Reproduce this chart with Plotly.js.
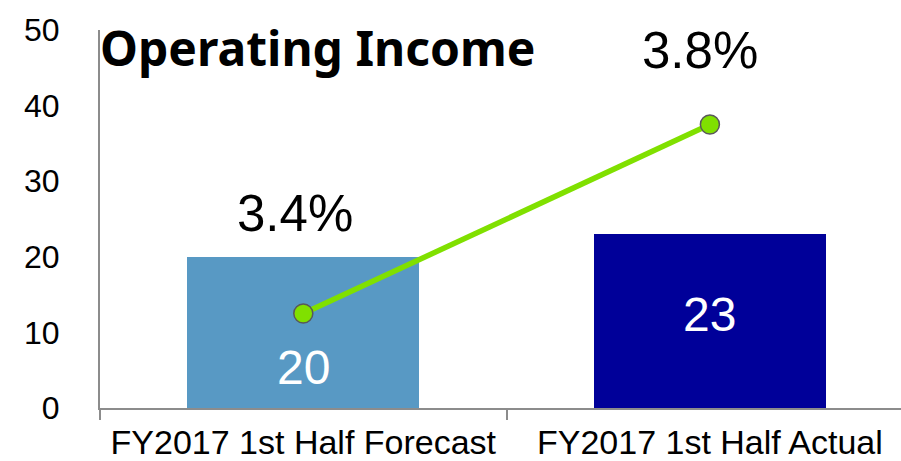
<!DOCTYPE html>
<html><head><meta charset="utf-8">
<script src="https://cdn.plot.ly/plotly-3.0.1.min.js"></script>
<style>html,body{margin:0;padding:0;background:#fff;}#chart{width:901px;height:461px;}</style>
</head><body><div id="chart"></div>
<script>
const categories = ["FY2017 1st Half Forecast", "FY2017 1st Half Actual"];
const incomeValues = [20, 23];
const marginValues = [3.4, 3.8];
const marginLabels = ["3.4%", "3.8%"];
const incomeLabels = ["20", "23"];
const barColors = ["#5899C4", "#000099"];
const yTicks = [0, 10, 20, 30, 40, 50];

const font = "Liberation Sans, Arial, sans-serif";

const traces = [
  {
    type: "bar", x: categories, y: incomeValues, width: 0.571,
    marker: {color: barColors}, hoverinfo: "none", showlegend: false
  },
  {
    type: "scatter", mode: "lines+markers", x: categories, y: marginValues, yaxis: "y2",
    line: {color: "#80E000", width: 5.5},
    marker: {color: "#80E000", size: 19, line: {color: "#595959", width: 1.5}},
    showlegend: false, hoverinfo: "none"
  }
];

const marginShift = [100, 74];
const marginXShift = [-8, -10];
const barLabelShift = [-111, -80];
const annotations = [];
categories.forEach((c, i) => {
  annotations.push({x: c, y: marginValues[i], xref: "x", yref: "y2", text: marginLabels[i],
    showarrow: false, yshift: marginShift[i], xshift: marginXShift[i], font: {family: font, size: 51, color: "#000"}});
  annotations.push({x: c, y: incomeValues[i], xref: "x", yref: "y", text: incomeLabels[i],
    showarrow: false, yshift: barLabelShift[i], font: {family: font, size: 48, color: "#fff"}});
});
annotations.push({x: 0.272, xanchor: "center", y: 47.7, xref: "paper", yref: "y", text: "<b>Operating Income</b>",
  showarrow: false, font: {family: "Noto Sans, sans-serif", size: 48, color: "#000"}});

const layout = {
  width: 901, height: 461,
  margin: {l: 100, r: 0, t: 30, b: 53, pad: 0},
  paper_bgcolor: "#fff", plot_bgcolor: "#fff",
  bargap: 0,
  xaxis: {
    type: "category", range: [-0.5, 1.47], tickson: "boundaries",
    ticks: "outside", ticklen: 10, tickcolor: "#8C8C8C", tickwidth: 2,
    showline: true, linecolor: "#8C8C8C", linewidth: 2, showgrid: false, zeroline: false,
    tickfont: {family: font, size: 34, color: "#000"}, ticklabelstandoff: 3
  },
  yaxis: {
    range: [0, 50], tickvals: yTicks, ticks: "", showline: true, linecolor: "#8C8C8C", linewidth: 2,
    showgrid: false, zeroline: false, tickfont: {family: font, size: 32, color: "#000"},
    ticklabelstandoff: 32
  },
  yaxis2: {range: [3.2, 4.0], overlaying: "y", visible: false},
  annotations: annotations
};

Plotly.newPlot("chart", traces, layout, {displayModeBar: false, staticPlot: true});
</script></body></html>
